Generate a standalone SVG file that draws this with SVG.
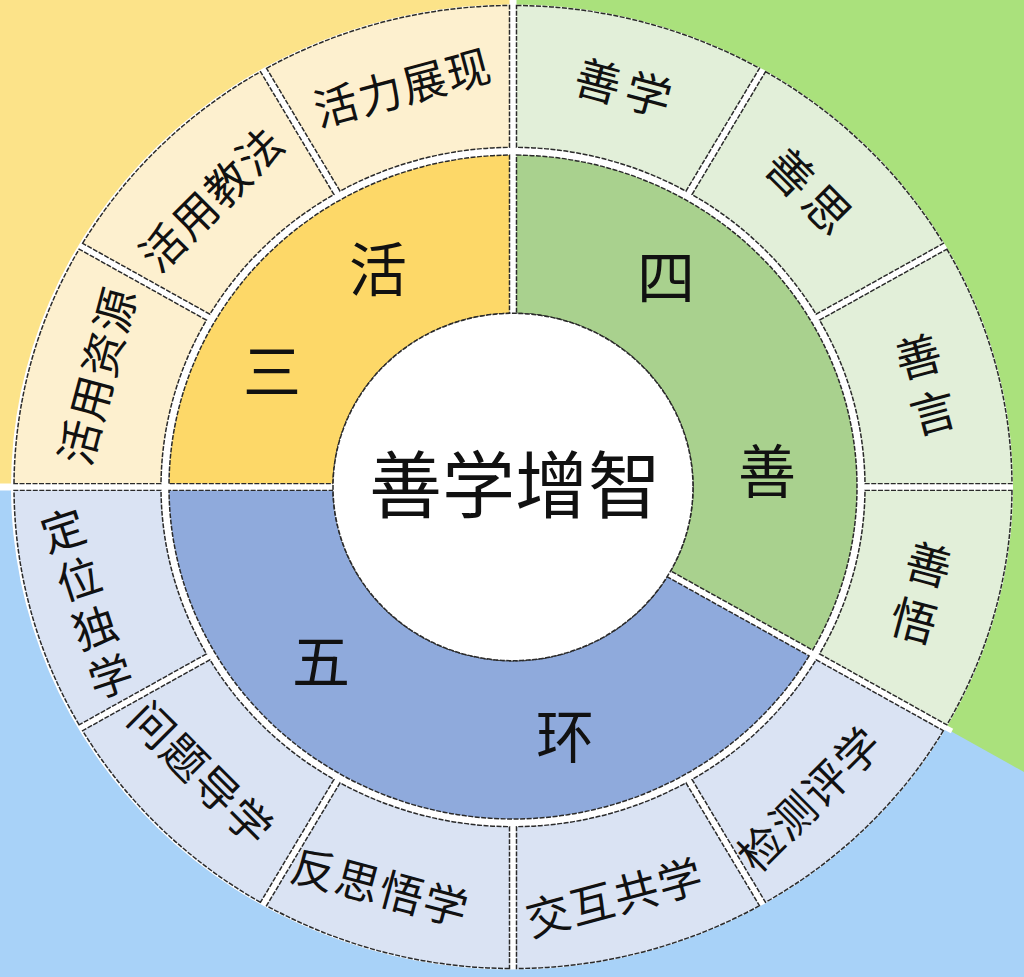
<svg xmlns="http://www.w3.org/2000/svg" xmlns:xlink="http://www.w3.org/1999/xlink" width="1024" height="977" viewBox="0 0 1024 977">
<style>
  .seg { stroke:#2a2a2a; stroke-width:1.5; stroke-dasharray:5 1.5; }
  .oy { fill:#fdf0cf; } .og { fill:#e2efd9; } .ob { fill:#dae3f3; }
  .iy { fill:#fdd868; } .ig { fill:#a9d18e; } .ib { fill:#8faadc; }
  text { font-family:"Noto Sans CJK SC","Noto Sans CJK JP",sans-serif; fill:#111; text-anchor:middle; dominant-baseline:central; }
  .lo { font-size:44px; letter-spacing:1.5px; }
  .l2 { font-size:46px; letter-spacing:6px; }
  .lv { font-size:46px; }
  .li { font-size:58px; }
  .lc { font-size:73px; }
</style>
<defs>
  <path id="o" d="M -125.77 -482.89 A 499 499 0 0 1 125.77 -482.89 L 87.72 -340.90 A 352 352 0 0 0 -87.72 -340.90 Z"/>
  <path id="pY" d="M -240.76 -245.71 A 344 344 0 0 1 240.76 -245.71 L 124.78 -129.73 A 180 180 0 0 0 -124.78 -129.73 Z"/>
  <path id="pG" d="M -296.15 -175.02 A 344 344 0 0 1 296.15 -175.02 L 154.10 -93.01 A 180 180 0 0 0 -154.10 -93.01 Z"/>
  <path id="pB" d="M -331.36 -92.41 A 344 344 0 0 1 331.36 -92.41 L 172.93 -49.96 A 180 180 0 0 0 -172.93 -49.96 Z"/>
</defs>

<g id="background">
  <rect x="0" y="0" width="1024" height="977" fill="#a8d2f8"/>
  <polygon points="0,0 513,0 513,487 0,487" fill="#fce389"/>
  <polygon points="513,0 1024,0 1024,772 513,487" fill="#aae17c"/>
  <ellipse cx="512" cy="487" rx="501" ry="482.5" fill="#ffffff"/>
  <line x1="513" y1="0" x2="513" y2="20" stroke="#fff" stroke-width="7"/>
  <line x1="0" y1="487" x2="20" y2="487" stroke="#fff" stroke-width="7"/>
  <line x1="937" y1="723" x2="952" y2="731" stroke="#fff" stroke-width="5"/>
</g>

<g id="connectors"></g>

<!-- outer ring -->
<g id="n-huoyongziyuan">
  <use xlink:href="#o" class="seg oy" transform="translate(513 487) scale(1 0.965) rotate(285)"/>
  <text class="lo" transform="translate(95 375) rotate(-75)">活用资源</text>
</g>
<g id="n-huoyongjiaofa">
  <use xlink:href="#o" class="seg oy" transform="translate(513 487) scale(1 0.965) rotate(315)"/>
  <text class="lo" transform="translate(210 197) rotate(-45)">活用教法</text>
</g>
<g id="n-huolizhanxian">
  <use xlink:href="#o" class="seg oy" transform="translate(513 487) scale(1 0.965) rotate(345)"/>
  <text class="lo" transform="translate(402 85) rotate(-15)">活力展现</text>
</g>
<g id="n-shanxue">
  <use xlink:href="#o" class="seg og" transform="translate(513 487) scale(1 0.965) rotate(15)"/>
  <text class="l2" transform="translate(627 86) rotate(15)">善学</text>
</g>
<g id="n-shansi">
  <use xlink:href="#o" class="seg og" transform="translate(513 487) scale(1 0.965) rotate(45)"/>
  <text class="l2" transform="translate(813 191) rotate(45)">善思</text>
</g>
<g id="n-shanyan">
  <use xlink:href="#o" class="seg og" transform="translate(513 487) scale(1 0.965) rotate(75)"/>
  <g transform="translate(925 382) rotate(-15)">
    <text class="lv" x="0" y="-29">善</text>
    <text class="lv" x="0" y="29">言</text>
  </g>
</g>
<g id="n-shanwu">
  <use xlink:href="#o" class="seg og" transform="translate(513 487) scale(1 0.965) rotate(105)"/>
  <g transform="translate(922 590) rotate(15)">
    <text class="lv" x="0" y="-29">善</text>
    <text class="lv" x="0" y="29">悟</text>
  </g>
</g>
<g id="n-jiancepingxue">
  <use xlink:href="#o" class="seg ob" transform="translate(513 487) scale(1 0.965) rotate(135)"/>
  <text class="lo" transform="translate(808 797) rotate(-45)">检测评学</text>
</g>
<g id="n-jiaohugongxue">
  <use xlink:href="#o" class="seg ob" transform="translate(513 487) scale(1 0.965) rotate(165)"/>
  <text class="lo" transform="translate(614 895) rotate(-15)">交互共学</text>
</g>
<g id="n-fansiwuxue">
  <use xlink:href="#o" class="seg ob" transform="translate(513 487) scale(1 0.965) rotate(195)"/>
  <text class="lo" transform="translate(381 885) rotate(15)">反思悟学</text>
</g>
<g id="n-wentidaoxue">
  <use xlink:href="#o" class="seg ob" transform="translate(513 487) scale(1 0.965) rotate(225)"/>
  <text class="lo" transform="translate(203 772) rotate(45)">问题导学</text>
</g>
<g id="n-dingweiduxue">
  <use xlink:href="#o" class="seg ob" transform="translate(513 487) scale(1 0.965) rotate(255)"/>
  <g transform="translate(86 601) rotate(-18)">
    <text class="lv" x="0" y="-77" style="font-size:44px">定</text>
    <text class="lv" x="0" y="-25.7" style="font-size:44px">位</text>
    <text class="lv" x="0" y="25.7" style="font-size:44px">独</text>
    <text class="lv" x="0" y="77" style="font-size:44px">学</text>
  </g>
</g>

<!-- inner ring -->
<g id="n-sanhuo">
  <use xlink:href="#pY" class="seg iy" transform="translate(513 487) scale(1 0.965) rotate(315)"/>
  <text class="li" x="378" y="266">活</text>
  <text class="li" x="272" y="368">三</text>
</g>
<g id="n-sishan">
  <use xlink:href="#pG" class="seg ig" transform="translate(513 487) scale(1 0.965) rotate(60)"/>
  <text class="li" x="666" y="274">四</text>
  <text class="li" x="767" y="468">善</text>
</g>
<g id="n-wuhuan">
  <use xlink:href="#pB" class="seg ib" transform="translate(513 487) scale(1 0.965) rotate(195)"/>
  <text class="li" x="321" y="658">五</text>
  <text class="li" x="565" y="733">环</text>
</g>

<!-- center -->
<g id="n-center">
  <ellipse cx="513" cy="487" rx="180" ry="173.7" fill="#ffffff" class="seg"/>
  <text class="lc" x="515" y="480">善学增智</text>
</g>
</svg>
